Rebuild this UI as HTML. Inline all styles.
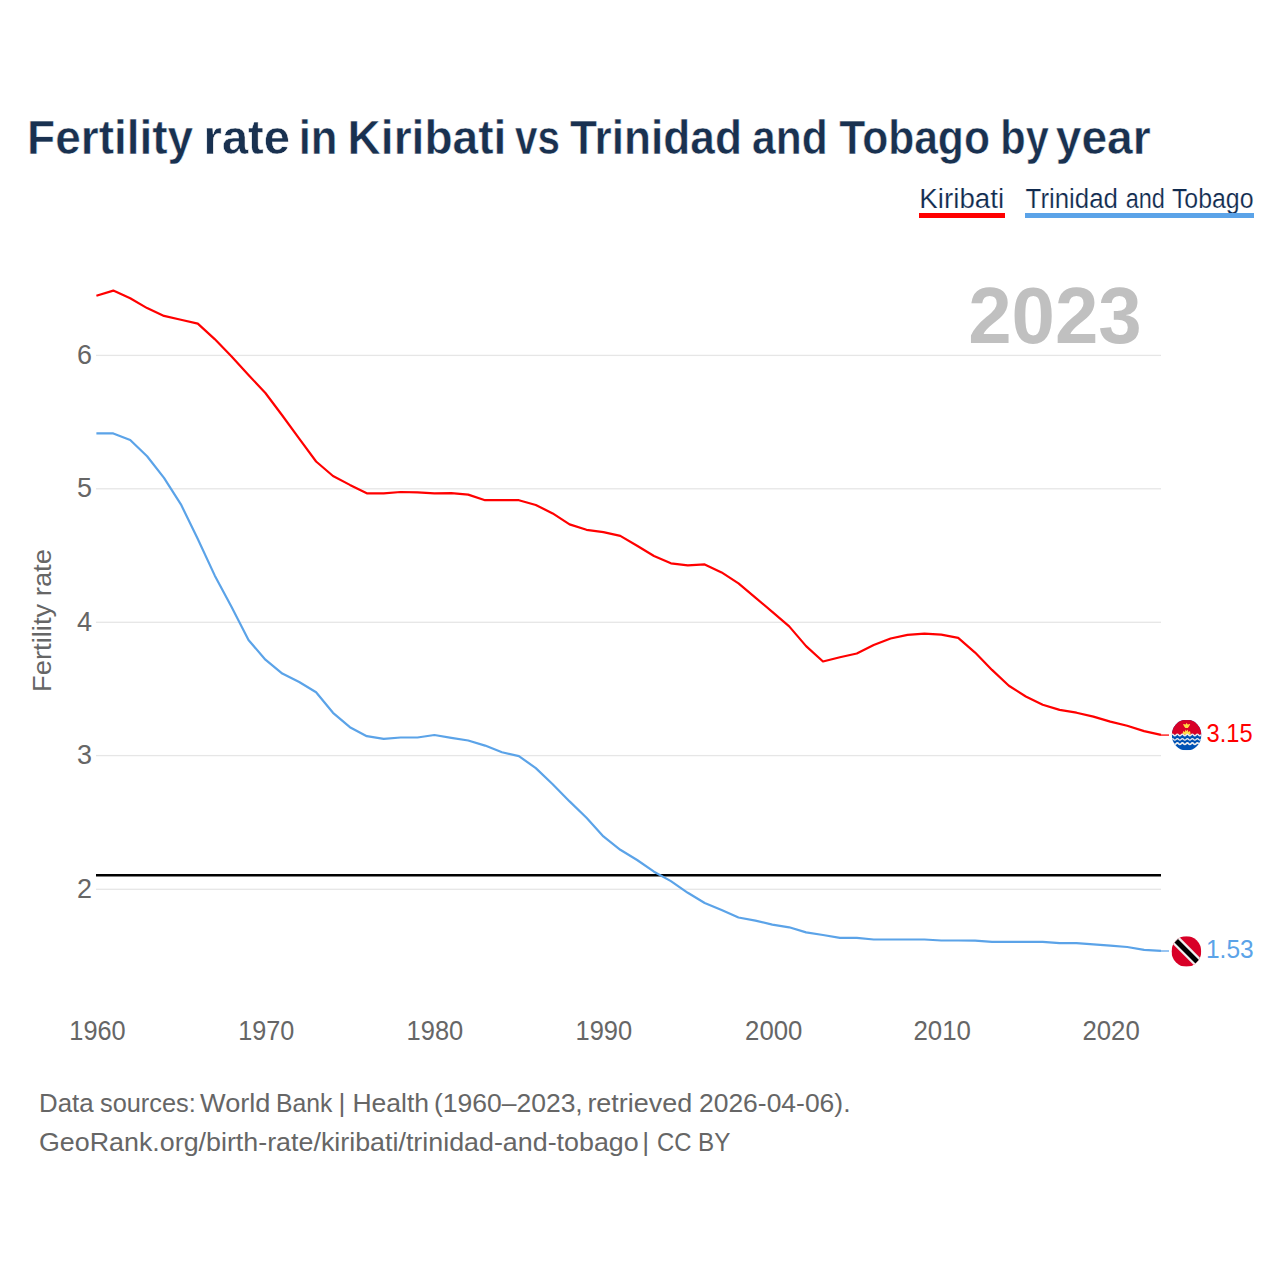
<!DOCTYPE html>
<html><head><meta charset="utf-8">
<style>
html,body{margin:0;padding:0;background:#fff;width:1280px;height:1280px;overflow:hidden}
svg{display:block}
text{font-family:"Liberation Sans",sans-serif}
</style></head>
<body>
<svg width="1280" height="1280" viewBox="0 0 1280 1280">
<rect width="1280" height="1280" fill="#fff"/>
<!-- title -->
<g id="titleg" font-size="49" font-weight="bold" fill="#193150" stroke="#ffffff" stroke-width="0.5">
<text id="t0" x="27.11" textLength="166.02" lengthAdjust="spacingAndGlyphs" y="153.7">Fertility</text>
<text id="t1" x="203.55" textLength="86.49" lengthAdjust="spacingAndGlyphs" y="153.7">rate</text>
<text id="t2" x="298.75" textLength="38.73" lengthAdjust="spacingAndGlyphs" y="153.7">in</text>
<text id="t3" x="347.6" textLength="158.68" lengthAdjust="spacingAndGlyphs" y="153.7">Kiribati</text>
<text id="t4" x="515.0" textLength="44.92" lengthAdjust="spacingAndGlyphs" y="153.7">vs</text>
<text id="t5" x="570.0" textLength="171.98" lengthAdjust="spacingAndGlyphs" y="153.7">Trinidad</text>
<text id="t6" x="752.12" textLength="75.46" lengthAdjust="spacingAndGlyphs" y="153.7">and</text>
<text id="t7" x="839.28" textLength="150.65" lengthAdjust="spacingAndGlyphs" y="153.7">Tobago</text>
<text id="t8" x="1000.27" textLength="48.5" lengthAdjust="spacingAndGlyphs" y="153.7">by</text>
<text id="t9" x="1055.74" textLength="94.88" lengthAdjust="spacingAndGlyphs" y="153.7">year</text>
</g>
<!-- legend -->

<g font-size="27" fill="#0f2a4e" stroke="#ffffff" stroke-width="0.2">
<text id="g0" x="919.39" textLength="84.7" lengthAdjust="spacingAndGlyphs" y="208">Kiribati</text>
<text id="g1" x="1025.6" textLength="92.36" lengthAdjust="spacingAndGlyphs" y="208">Trinidad</text>
<text id="g2" x="1125.64" textLength="39.27" lengthAdjust="spacingAndGlyphs" y="208">and</text>
<text id="g3" x="1171.88" textLength="81.71" lengthAdjust="spacingAndGlyphs" y="208">Tobago</text>
</g>
<rect x="919" y="213" width="86" height="5" fill="#ff0000"/>
<rect x="1025" y="213" width="229" height="5" fill="#5ba3e8"/>
<!-- year -->
<text id="year" x="968.2" textLength="173.5" lengthAdjust="spacingAndGlyphs" y="343" font-size="80" font-weight="bold" fill="#c0c0c0">2023</text>
<!-- gridlines -->
<g fill="#e6e6e6">
<rect x="96" y="354.75" width="1065" height="1.3"/>
<rect x="96" y="488.15" width="1065" height="1.3"/>
<rect x="96" y="621.65" width="1065" height="1.3"/>
<rect x="96" y="754.95" width="1065" height="1.3"/>
<rect x="96" y="888.65" width="1065" height="1.3"/>
</g>
<!-- y labels -->
<g font-size="27" fill="#666666" text-anchor="end">
<text x="92" y="364">6</text>
<text x="92" y="497">5</text>
<text x="92" y="631">4</text>
<text x="92" y="764">3</text>
<text x="92" y="898">2</text>
</g>
<text id="ytitle" transform="translate(51,691.9) rotate(-90)" x="0" y="0" textLength="142.8" lengthAdjust="spacingAndGlyphs" font-size="26" fill="#666666">Fertility rate</text>
<!-- replacement line -->
<rect x="96" y="874" width="1065" height="2.5" fill="#000"/>
<!-- lines -->
<polyline points="96.4,295.7 113.3,290.6 130.2,298.3 147.1,308.1 164.0,315.9 180.9,319.7 197.8,323.6 214.7,339.1 231.6,356.6 248.5,375.0 265.4,393.0 282.3,415.5 299.2,438.7 316.1,461.5 333.0,476.0 349.9,484.9 366.8,493.3 383.7,493.3 400.6,492.0 417.5,492.3 434.4,493.4 451.3,493.2 468.2,494.6 485.1,500.2 502.0,500.2 518.9,500.2 535.8,505.0 552.7,513.4 569.6,524.4 586.5,529.8 603.4,532.1 620.3,535.9 637.1,545.7 654.0,556.0 670.9,563.3 687.8,565.4 704.7,564.4 721.6,572.4 738.5,583.3 755.4,597.6 772.3,611.8 789.2,626.4 806.1,646.1 823.0,661.5 839.9,657.3 856.8,653.5 873.7,645.1 890.6,638.5 907.5,634.9 924.4,633.6 941.3,634.7 958.2,637.8 975.1,652.6 992.0,669.9 1008.9,685.8 1025.8,696.5 1042.7,704.7 1059.6,709.9 1076.5,712.7 1093.4,716.6 1110.3,721.6 1127.2,725.8 1144.1,731.1 1161.0,734.9" fill="none" stroke="#ff0000" stroke-width="2.2" stroke-linejoin="round"/>
<polyline points="96.4,433.4 113.3,433.4 130.2,440.0 147.1,456.2 164.0,477.9 180.9,504.3 197.8,539.0 214.7,575.4 231.6,606.9 248.5,640.0 265.4,659.7 282.3,673.6 299.2,682.0 316.1,692.2 333.0,712.8 349.9,727.2 366.8,736.2 383.7,738.9 400.6,737.5 417.5,737.5 434.4,735.0 451.3,737.8 468.2,740.5 485.1,745.6 502.0,752.2 518.9,756.1 535.8,768.1 552.7,784.2 569.6,801.4 586.5,817.8 603.4,836.4 620.3,849.8 637.1,860.0 654.0,871.7 670.9,881.1 687.8,892.8 704.7,903.0 721.6,910.0 738.5,917.5 755.4,920.6 772.3,924.6 789.2,927.3 806.1,932.4 823.0,935.0 839.9,937.9 856.8,937.9 873.7,939.5 890.6,939.5 907.5,939.5 924.4,939.5 941.3,940.5 958.2,940.5 975.1,940.6 992.0,941.8 1008.9,941.8 1025.8,941.8 1042.7,941.8 1059.6,943.2 1076.5,943.2 1093.4,944.4 1110.3,945.6 1127.2,947.0 1144.1,949.9 1161.0,950.9" fill="none" stroke="#5ba3e8" stroke-width="2.2" stroke-linejoin="round"/>
<!-- connectors -->
<line x1="1161" y1="735.1" x2="1169" y2="735.1" stroke="#ff0000" stroke-width="1.6" stroke-opacity="0.8"/>
<line x1="1161" y1="951" x2="1169" y2="951" stroke="#5ba3e8" stroke-width="1.6" stroke-opacity="0.8"/>
<!-- flags -->
<defs>
<clipPath id="cc"><ellipse cx="15" cy="15" rx="14.8" ry="15.5"/></clipPath>
</defs>
<g transform="translate(1171.6,720.1)">
<g clip-path="url(#cc)">
<rect x="0" y="0" width="30" height="30" fill="#0052b4"/>
<rect x="0" y="0" width="30" height="14.6" fill="#d80027"/>
<path d="M11.4,4.2 L12.6,3.9 L13.6,4.6 L15,3.0 L16.4,4.6 L17.4,3.9 L18.6,4.2 L17.4,6.4 L16.2,7.9 L13.8,7.9 L12.6,6.4 Z" fill="#ffda44"/>
<path d="M10.8,14.6 L11.6,10.9 L13.2,11.8 L14.1,9.3 L15,11.2 L15.9,9.3 L16.8,11.8 L18.4,10.9 L19.2,14.6 Z" fill="#ffda44"/>
<path d="M-0.5,14.9 q1.25,-1.60 2.50,0 q1.25,1.60 2.50,0 q1.25,-1.60 2.50,0 q1.25,1.60 2.50,0 q1.25,-1.60 2.50,0 q1.25,1.60 2.50,0 q1.25,-1.60 2.50,0 q1.25,1.60 2.50,0 q1.25,-1.60 2.50,0 q1.25,1.60 2.50,0 q1.25,-1.60 2.50,0 q1.25,1.60 2.50,0 q1.25,-1.60 2.50,0 q1.25,1.60 2.50,0" stroke="#eeeeee" stroke-width="1.35" fill="none"/>
<path d="M-0.5,19.3 q1.25,-1.60 2.50,0 q1.25,1.60 2.50,0 q1.25,-1.60 2.50,0 q1.25,1.60 2.50,0 q1.25,-1.60 2.50,0 q1.25,1.60 2.50,0 q1.25,-1.60 2.50,0 q1.25,1.60 2.50,0 q1.25,-1.60 2.50,0 q1.25,1.60 2.50,0 q1.25,-1.60 2.50,0 q1.25,1.60 2.50,0 q1.25,-1.60 2.50,0 q1.25,1.60 2.50,0" stroke="#eeeeee" stroke-width="1.35" fill="none"/>
<path d="M-0.5,23.6 q1.25,-1.60 2.50,0 q1.25,1.60 2.50,0 q1.25,-1.60 2.50,0 q1.25,1.60 2.50,0 q1.25,-1.60 2.50,0 q1.25,1.60 2.50,0 q1.25,-1.60 2.50,0 q1.25,1.60 2.50,0 q1.25,-1.60 2.50,0 q1.25,1.60 2.50,0 q1.25,-1.60 2.50,0 q1.25,1.60 2.50,0 q1.25,-1.60 2.50,0 q1.25,1.60 2.50,0" stroke="#eeeeee" stroke-width="1.7" fill="none"/>
</g>
</g>
<g transform="translate(1171.4,936.4)">
<g clip-path="url(#cc)">
<rect x="0" y="0" width="30" height="30" fill="#d80027"/>
<g transform="translate(0.5,-0.45)"><polygon points="-5,-11.4 40,33.6 40,47.2 -5,2.2" fill="#eeeeee"/>
<polygon points="6.05,3.05 27.05,24.05 23.55,27.55 2.55,6.55" fill="#000000"/></g>
</g>
</g>
<text id="v315" x="1206.6" textLength="46.0" lengthAdjust="spacingAndGlyphs" y="741.7" font-size="26.6" fill="#ff0000">3.15</text>
<text id="v153" x="1206.0" textLength="47.6" lengthAdjust="spacingAndGlyphs" y="957.8" font-size="26.6" fill="#5ba3e8">1.53</text>
<!-- x labels -->
<g font-size="27" fill="#666666">
<text id="x0" x="69.32" textLength="56.35" lengthAdjust="spacingAndGlyphs" y="1039.8">1960</text>
<text id="x1" x="238.23" textLength="56.04" lengthAdjust="spacingAndGlyphs" y="1039.8">1970</text>
<text id="x2" x="406.57" textLength="56.66" lengthAdjust="spacingAndGlyphs" y="1039.8">1980</text>
<text id="x3" x="575.5" textLength="56.66" lengthAdjust="spacingAndGlyphs" y="1039.8">1990</text>
<text id="x4" x="745.11" textLength="57.25" lengthAdjust="spacingAndGlyphs" y="1039.8">2000</text>
<text id="x5" x="913.44" textLength="57.53" lengthAdjust="spacingAndGlyphs" y="1039.8">2010</text>
<text id="x6" x="1082.45" textLength="57.33" lengthAdjust="spacingAndGlyphs" y="1039.8">2020</text>
</g>
<!-- footer -->

<g font-size="26.5" fill="#666666">
<text id="fa0" x="38.97" textLength="54.59" lengthAdjust="spacingAndGlyphs" y="1112">Data</text>
<text id="fa1" x="99.99" textLength="95.77" lengthAdjust="spacingAndGlyphs" y="1112">sources:</text>
<text id="fa2" x="200.0" textLength="70.42" lengthAdjust="spacingAndGlyphs" y="1112">World</text>
<text id="fa3" x="276.01" textLength="56.48" lengthAdjust="spacingAndGlyphs" y="1112">Bank</text>
<text id="fa4" x="338.5" y="1112">|</text>
<text id="fa5" x="352.42" textLength="76.65" lengthAdjust="spacingAndGlyphs" y="1112">Health</text>
<text id="fa6" x="433.94" textLength="148.8" lengthAdjust="spacingAndGlyphs" y="1112">(1960–2023,</text>
<text id="fa7" x="587.4" textLength="104.94" lengthAdjust="spacingAndGlyphs" y="1112">retrieved</text>
<text id="fa8" x="698.97" textLength="151.53" lengthAdjust="spacingAndGlyphs" y="1112">2026-04-06).</text>
<text id="fb0" x="38.93" textLength="599.76" lengthAdjust="spacingAndGlyphs" y="1151">GeoRank.org/birth-rate/kiribati/trinidad-and-tobago</text>
<text id="fb1" x="642.25" y="1151">|</text>
<text id="fb2" x="657.04" textLength="34.52" lengthAdjust="spacingAndGlyphs" y="1151">CC</text>
<text id="fb3" x="698.05" textLength="32.32" lengthAdjust="spacingAndGlyphs" y="1151">BY</text>
</g>
</svg>
</body></html>
